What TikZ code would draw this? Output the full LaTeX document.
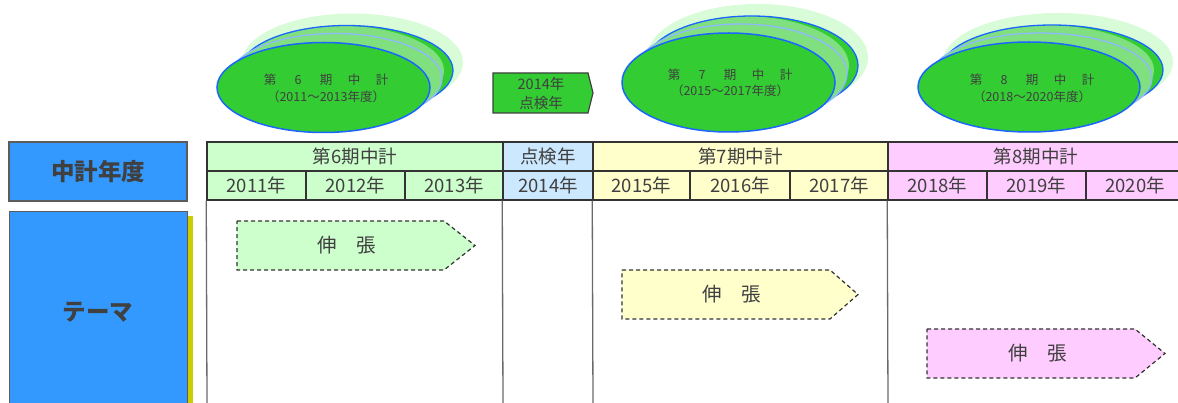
\documentclass[tikz,border=0pt]{standalone}
\usepackage{fontspec}
\setmainfont{Noto Sans CJK JP}
\usetikzlibrary{shapes.geometric}
\definecolor{txt}{HTML}{404040}
\definecolor{gridc}{HTML}{333333}
\definecolor{vlc}{HTML}{6A6A6A}
\definecolor{g6}{HTML}{CCFFCC}
\definecolor{bk}{HTML}{CCE8FF}
\definecolor{y7}{HTML}{FFFFCC}
\definecolor{p8}{HTML}{FFCCFF}
\definecolor{bluebox}{HTML}{3399FF}
\definecolor{olive}{HTML}{CCCC00}
\definecolor{brightg}{HTML}{33CC33}
\definecolor{lightg}{HTML}{80E080}
\definecolor{haloc}{HTML}{D8FCD8}
\definecolor{bline}{HTML}{1A66FF}
\definecolor{pblue}{HTML}{90B8FF}
\newcommand\ellgroup[5]{%
  \fill[haloc] ({#1+29},{#2-25}) ellipse [x radius={#3+4}, y radius={#4+4}];
  \begin{scope}
    \clip ({#1+23},{#2-17}) ellipse [x radius=#3, y radius=#4];
    \fill[brightg] ({#1+23},{#2-17}) ellipse [x radius=#3, y radius=#4];
    \fill[lightg] ({#1+14},{#2-17}) ellipse [x radius=#3, y radius=#4];
  \end{scope}
  \draw[bline, line width=1.3pt] ({#1+23},{#2-17}) ellipse [x radius=#3, y radius=#4];
  \draw[pblue, fill=lightg, line width=1.3pt] ({#1+12},{#2-9}) ellipse [x radius=#3, y radius=#4];
  \node[front ell, minimum width={2*#3}, minimum height={2*#4}] (#5) at (#1,#2) {};
}
\newcommand\spaced[5]{\makebox[28pt]{#1}\makebox[28pt]{#2}\makebox[28pt]{#3}\makebox[28pt]{#4}\makebox[28pt]{#5}}
\begin{document}
\begin{tikzpicture}[x=1pt,y=-1pt,
  cell/.style={draw=gridc, line width=1.5pt, inner sep=0pt, text=txt, font=\fontsize{18.5}{18.5}\selectfont, minimum height=29pt},
  side/.style={draw=gridc!80, line width=1.2pt, fill=bluebox, inner sep=0pt, text=txt, font=\fontsize{23.5}{23.5}\selectfont\bfseries},
  vline/.style={draw=vlc, line width=1.3pt},
  arrowbox/.style={draw=gridc, line width=1.2pt, dash pattern=on 4pt off 3pt},
  armtext/.style={text=txt, font=\fontsize{19.5}{19.5}\selectfont, inner sep=0pt},
  front ell/.style={ellipse, fill=brightg, draw=bline, line width=1.5pt, inner sep=0pt},
  elltext/.style={text=txt, font=\fontsize{12.5}{13}\selectfont, inner sep=0pt},
  small/.style={text=txt, font=\fontsize{14.5}{19}\selectfont, align=center, inner sep=0pt}]
\useasboundingbox (0,0) rectangle (1178,403);
\clip (0,0) rectangle (1178,403);
\fill[white] (0,0) rectangle (1178,403);

% ellipse groups
\ellgroup{323.5}{87.5}{106.5}{45}{e6}
\node[elltext] (e6a) at (326,80) {\spaced{第}{6}{期}{中}{計}};
\node[elltext] (e6b) at (326,97) {（2011～2013年度）};
\ellgroup{728.5}{82.5}{106.5}{49.5}{e7}
\node[elltext] (e7a) at (730,75) {\spaced{第}{7}{期}{中}{計}};
\node[elltext] (e7b) at (730,91) {（2015～2017年度）};
\ellgroup{1029}{87}{111}{45}{e8}
\node[elltext] (e8a) at (1032,80) {\spaced{第}{8}{期}{中}{計}};
\node[elltext] (e8b) at (1032,97) {（2018～2020年度）};

% check-year box
\draw[fill=brightg, draw=txt, line width=1.2pt] (493,73) -- (588,73) -- (593,93) -- (588,113) -- (493,113) -- cycle;
\node[small] (kb) at (541,93.5) {2014年\\点検年};

% side boxes
\node[side, minimum width=178pt, minimum height=59pt] (nendo) at (98,171.5) {中計年度};
\fill[olive] (187,216) rectangle (193,410);
\node[side, minimum width=178pt, minimum height=200pt, anchor=north west] (theme) at (9,211) {};
\node[text=txt, font=\fontsize{23.5}{23.5}\selectfont\bfseries, inner sep=0pt] (themet) at (98,312) {テーマ};

% table header
\node[cell, fill=g6, minimum width=296pt] (h6) at (355,156.5) {第6期中計};
\node[cell, fill=bk, minimum width=90pt] (hk) at (548,156.5) {点検年};
\node[cell, fill=y7, minimum width=295pt] (h7) at (740.5,156.5) {第7期中計};
\node[cell, fill=p8, minimum width=296pt] (h8) at (1036,156.5) {第8期中計};
\node[cell, fill=g6, minimum width=99pt] (y11) at (256.5,185.5) {2011年};
\node[cell, fill=g6, minimum width=99pt] (y12) at (355.5,185.5) {2012年};
\node[cell, fill=g6, minimum width=98pt] (y13) at (454,185.5) {2013年};
\node[cell, fill=bk, minimum width=90pt] (y14) at (548,185.5) {2014年};
\node[cell, fill=y7, minimum width=97pt] (y15) at (641.5,185.5) {2015年};
\node[cell, fill=y7, minimum width=100pt] (y16) at (740,185.5) {2016年};
\node[cell, fill=y7, minimum width=98pt] (y17) at (839,185.5) {2017年};
\node[cell, fill=p8, minimum width=99pt] (y18) at (937.5,185.5) {2018年};
\node[cell, fill=p8, minimum width=99pt] (y19) at (1036.5,185.5) {2019年};
\node[cell, fill=p8, minimum width=98pt] (y20) at (1135,185.5) {2020年};

% vertical lines in theme area
\coordinate (b1) at (207,404);
\coordinate (b2) at (503,404);
\coordinate (b3) at (593,404);
\coordinate (b4) at (888,404);
\draw[vline] (y11.south west) -- (b1);
\draw[vline] (y14.south west) -- (b2);
\draw[vline] (y15.south west) -- (b3);
\draw[vline] (y18.south west) -- (b4);

% arrows
\draw[arrowbox, fill=g6] (237,221) -- (444,221) -- (475,245.5) -- (444,270) -- (237,270) -- cycle;
\node[armtext] (a1) at (347,245.5) {伸　張};
\draw[arrowbox, fill=y7] (622,270) -- (830,270) -- (858,294.5) -- (830,319) -- (622,319) -- cycle;
\node[armtext] (a2) at (732,294.5) {伸　張};
\draw[arrowbox, fill=p8] (927,329) -- (1135,329) -- (1165,353.5) -- (1135,378) -- (927,378) -- cycle;
\node[armtext] (a3) at (1038,353.5) {伸　張};
\end{tikzpicture}
\end{document}
